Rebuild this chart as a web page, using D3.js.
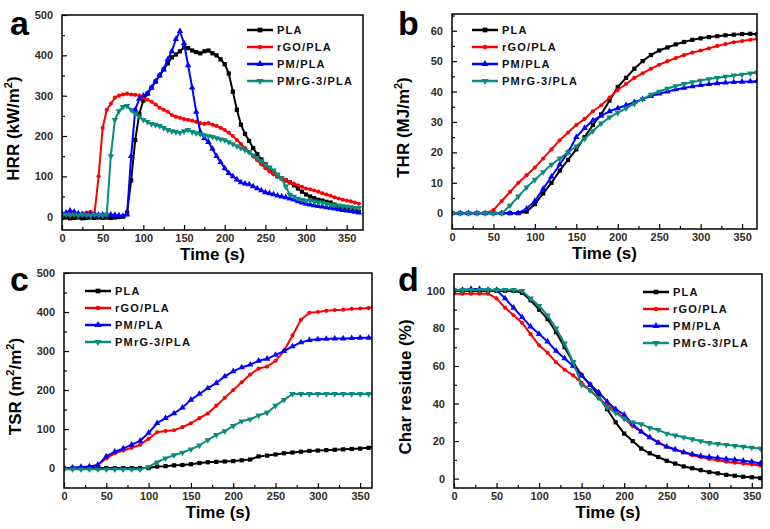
<!DOCTYPE html>
<html>
<head>
<meta charset="utf-8">
<script src="https://cdn.jsdelivr.net/npm/d3@7"></script>
<style>
  body { margin: 0; background: #fff; }
  svg { font-family: Arial, "Liberation Sans", sans-serif; }
  .tick text { font-size: 11px; font-weight: bold; fill: #332b22; }
  .tick line { stroke: #000; stroke-width: 1.2; }
</style>
</head>
<body>
<svg id="fig" width="770" height="529"></svg>
<script>
const names = ['PLA', 'rGO/PLA', 'PM/PLA', 'PMrG-3/PLA'];
const colors = ['#000000', '#ff0000', '#0000ff', '#0b8a7e'];
const shapes = [d3.symbolSquare, d3.symbolCircle, d3.symbolTriangle, 'down'];

// a: heat release rate, 5 s steps
const tHRR = [0,5,10,15,20,25,30,35,40,45,50,55,60,65,70,75,80,85,90,95,100,105,110,115,120,125,130,135,140,145,150,155,160,165,170,175,180,185,190,195,200,205,210,215,220,225,230,235,240,245,250,255,260,265,270,275,280,285,290,295,300,305,310,315,320,325,330,335,340,345,350,355,360,365];
const hrrPLA = [-3,-2,-4,-3,-2,-4,-3,-2,-3,-2,-3,-2,-3,-2,-1,0,10,90,190,255,288,305,320,335,350,365,380,395,402,410,420,418,412,408,405,410,412,405,400,390,378,355,310,265,228,205,188,170,155,142,130,120,110,100,95,90,85,78,70,62,55,50,46,42,40,37,35,30,25,22,20,18,15,12];
const hrrRGO = [5,6,8,5,6,7,10,12,8,100,220,265,280,295,300,303,305,303,302,300,295,290,285,278,270,265,260,252,248,245,242,240,238,235,232,230,232,228,225,220,215,208,200,190,180,170,160,150,140,130,120,112,105,100,95,90,85,82,78,74,70,68,65,62,58,55,52,48,45,42,40,38,35,32];
const hrrPM = [8,10,15,12,8,6,5,6,5,4,5,6,5,4,3,2,5,150,265,292,300,305,320,335,350,365,390,410,440,460,430,375,320,260,210,195,185,168,150,135,120,108,100,92,85,82,80,75,70,65,60,58,55,52,50,48,45,42,38,35,32,30,28,26,25,23,22,20,18,16,15,14,12,10];
const hrrPMRG = [3,5,4,6,3,5,4,3,5,4,3,5,150,240,262,272,275,265,255,248,240,235,230,228,225,220,215,212,210,208,212,215,210,207,205,202,200,198,195,192,190,185,180,175,170,165,160,152,145,138,130,122,115,105,95,75,55,50,45,42,40,40,38,36,35,32,30,29,28,26,25,24,22,22];

// b: total heat release, 10 s steps
const tTHR = [0,10,20,30,40,50,60,70,80,90,100,110,120,130,140,150,160,170,180,190,200,210,220,230,240,250,260,270,280,290,300,310,320,330,340,350,360,368];
const thrPLA = [0,0,0,0,0,0,0,0,0,0.5,3,6.5,10,14,17.5,21,25,29,32.5,37,41.5,44.5,47.5,50,52,53.5,54.5,55.5,56.3,57,57.5,57.9,58.2,58.5,58.7,58.9,59,58.8];
const thrRGO = [0,0,0,0,0,1,4,7,10,12.5,15,18,21,24,26.5,29,31,33.5,35.5,38,40.5,42.5,44.5,46,47.5,48.8,50,51,52,52.8,53.5,54.2,55,55.6,56.2,56.6,57,57.3];
const thrPM = [0,0,0,0,0,0,0,0,0,1.5,4,8,12,16,20,25,28,30.5,32,33.5,34.5,35.5,36.5,37.5,38.5,39.3,40,40.7,41.2,41.7,42.1,42.4,42.7,42.9,43.1,43.2,43.3,43.4];
const thrPMRG = [0,0,0,0,0,0,0,2.5,5.5,8.5,11,13.5,16,18,20,22,24.5,27,29.5,31.5,33,34.5,36,37.5,39,40,41,41.8,42.5,43.1,43.6,44.1,44.5,44.9,45.3,45.6,46,46.2];

// c: total smoke release, 10 s steps
const tTSR = [0,10,20,30,40,50,60,70,80,90,100,110,120,130,140,150,160,170,180,190,200,210,220,230,240,250,260,270,280,290,300,310,320,330,340,350,360,370];
const tsrPLA = [0,0,0,0,0,0,0,0,0,0,0,4,5,7,8,10,13,15,16,17,18,20,22,30,32,35,38,40,42,44,45,46,47,48,49,50,52,55];
const tsrRGO = [0,0,1,3,8,25,38,45,52,60,75,92,95,97,105,115,128,140,160,180,200,220,240,255,260,275,300,340,380,398,400,403,405,406,408,409,410,415];
const tsrPM = [0,1,3,4,8,30,42,50,60,70,90,115,128,140,155,175,190,205,218,235,248,258,265,275,280,290,300,312,322,328,330,331,332,332,333,334,334,335];
const tsrPMRG = [-3,-3,-3,-3,-3,-3,-3,-3,-3,-3,3,15,25,33,40,48,58,72,85,95,108,120,125,135,142,160,175,190,190,190,190,190,190,190,190,190,190,190];

// d: char residue, 10 s steps
const tCR = [0,10,20,30,40,50,60,70,80,90,100,110,120,130,140,150,160,170,180,190,200,210,220,230,240,250,260,270,280,290,300,310,320,330,340,350,360,362];
const crPLA = [100,100,100,100,100,100,100,100,99,95,90,85,78,70,62,55,50,44,37,30,24,20,16,13.5,11.5,9.5,8,6.5,5.5,4.5,3.5,2.8,2,1.5,1,0.7,0.3,0.3];
const crRGO = [98.5,98.5,98.5,98.5,98.5,96,91,87,83,77,71,67,62,58,55,51,47,43,39,36,32,28,25,22,19.5,17,15.5,14,12.5,11.5,10.5,9.8,9,8.5,8,7.5,7,7];
const crPM = [100.5,100.5,101,101,100.5,100.5,96,91,86,81,77,73,68,64,60,55,50,46,41,37,34,29,25,22,19,17,15.5,14,13,12,11.5,11,10.5,10,9.5,9,8,8];
const crPMRG = [100.5,100.5,100.5,100.5,100.5,100.5,100.5,100.5,100,96,92,87,80,72,62,50,47,43,38,35,32,30,29,27,26,24,23,22,21,20,19,18.5,18,17.5,17,16.5,16,16];

const panels = [
  { letter: 'a', box: [62, 15, 363, 230], xMax: 370, y: [-33, 500], yStep: 100, yMinor: 50,
    title: ['HRR (kW/m', '2', ')'], t: tHRR, series: [hrrPLA, hrrRGO, hrrPM, hrrPMRG],
    legend: [247, 30], letterPos: [10, 35] },
  { letter: 'b', box: [452, 14, 757, 229], xMax: 368, y: [-5.2, 65.5], yStep: 10, yMinor: 5,
    title: ['THR (MJ/m', '2', ')'], t: tTHR, series: [thrPLA, thrRGO, thrPM, thrPMRG],
    legend: [472, 30], letterPos: [398, 35] },
  { letter: 'c', box: [64, 273, 372, 488], xMax: 364, y: [-51, 500], yStep: 100, yMinor: 50,
    title: ['TSR (m', '2', '/m', '2', ')'], t: tTSR, series: [tsrPLA, tsrRGO, tsrPM, tsrPMRG],
    legend: [85, 291], letterPos: [10, 291] },
  { letter: 'd', box: [454, 274, 762, 488], xMax: 362, y: [-5, 109], yStep: 20, yMinor: 10,
    title: ['Char residue (%)'], t: tCR, series: [crPLA, crRGO, crPM, crPMRG],
    legend: [643, 292], letterPos: [398, 291] }
];

const svg = d3.select('#fig');

function sym(k, size) {
  return d3.symbol(shapes[k] === 'down' ? d3.symbolTriangle : shapes[k], k === 1 ? size * 0.75 : size);
}

panels.forEach(p => {
  const [x0, y0, x1, y1] = p.box;
  const x = d3.scaleLinear().domain([0, p.xMax]).range([x0, x1]);
  const y = d3.scaleLinear().domain(p.y).range([y1, y0]);
  const g = svg.append('g');

  const xMajor = d3.range(0, p.xMax + 1, 50);
  const xMinor = d3.range(25, p.xMax, 50);
  const yMajor = d3.range(0, p.y[1] + 0.01, p.yStep);
  const yMinor = d3.range(p.yMinor, p.y[1], p.yStep);

  g.append('g').attr('transform', `translate(0,${y1})`)
    .call(d3.axisBottom(x).tickValues(xMajor).tickSize(-5).tickPadding(4))
    .call(a => a.select('.domain').remove());
  g.append('g').attr('transform', `translate(0,${y1})`)
    .call(d3.axisBottom(x).tickValues(xMinor).tickSize(-3).tickFormat(''))
    .call(a => a.select('.domain').remove());
  g.append('g').attr('transform', `translate(${x0},0)`)
    .call(d3.axisLeft(y).tickValues(yMajor).tickSize(-5).tickPadding(9))
    .call(a => a.select('.domain').remove());
  g.append('g').attr('transform', `translate(${x0},0)`)
    .call(d3.axisLeft(y).tickValues(yMinor).tickSize(-3).tickFormat(''))
    .call(a => a.select('.domain').remove());

  const clipId = 'clip' + p.letter;
  g.append('clipPath').attr('id', clipId).append('rect')
    .attr('x', x0).attr('y', y0).attr('width', x1 - x0).attr('height', y1 - y0);
  const plot = g.append('g').attr('clip-path', `url(#${clipId})`);

  const line = d3.line().x(d => x(d[0])).y(d => y(d[1]));
  p.series.forEach((vals, k) => {
    const pts = p.t.map((t, i) => [t, vals[i]]);
    plot.append('path').datum(pts)
      .attr('fill', 'none').attr('stroke', colors[k]).attr('stroke-width', 2)
      .attr('stroke-linejoin', 'round').attr('d', line);
    plot.selectAll(null).data(pts).join('path')
      .attr('fill', colors[k])
      .attr('d', sym(k, 18))
      .attr('transform', d => `translate(${x(d[0])},${y(d[1])})` + (shapes[k] === 'down' ? ' rotate(180)' : ''));
  });

  g.append('rect').attr('x', x0).attr('y', y0).attr('width', x1 - x0).attr('height', y1 - y0)
    .attr('fill', 'none').attr('stroke', '#000').attr('stroke-width', 1.5);

  // legend
  const [lx, ly] = p.legend;
  names.forEach((n, k) => {
    const yy = ly + k * 17;
    g.append('line').attr('x1', lx).attr('x2', lx + 26).attr('y1', yy).attr('y2', yy)
      .attr('stroke', colors[k]).attr('stroke-width', 2.5);
    g.append('path').attr('fill', colors[k])
      .attr('d', sym(k, 22))
      .attr('transform', `translate(${lx + 13},${yy})` + (shapes[k] === 'down' ? ' rotate(180)' : ''));
    g.append('text').attr('x', lx + 30).attr('y', yy + 4)
      .attr('font-size', 11).attr('font-weight', 'bold').attr('letter-spacing', 1.2)
      .attr('fill', '#111').text(n);
  });

  // axis titles
  g.append('text').attr('x', (x0 + x1) / 2).attr('y', y1 + 30)
    .attr('text-anchor', 'middle').attr('font-size', 17).attr('font-weight', 'bold')
    .text('Time (s)');
  const yt = g.append('text')
    .attr('transform', `translate(${x0 - 43},${(y0 + y1) / 2 + 6}) rotate(-90)`)
    .attr('text-anchor', 'middle').attr('font-size', 17).attr('font-weight', 'bold');
  p.title.forEach((s, i) => {
    const isSup = s === '2';
    yt.append('tspan').attr('font-size', isSup ? 11 : 17)
      .attr('dy', isSup ? -7 : (i > 0 ? 7 : 0)).text(s);
  });

  g.append('text').attr('x', p.letterPos[0]).attr('y', p.letterPos[1])
    .attr('font-size', 34).attr('font-weight', 'bold').text(p.letter);
});
</script>
</body>
</html>
